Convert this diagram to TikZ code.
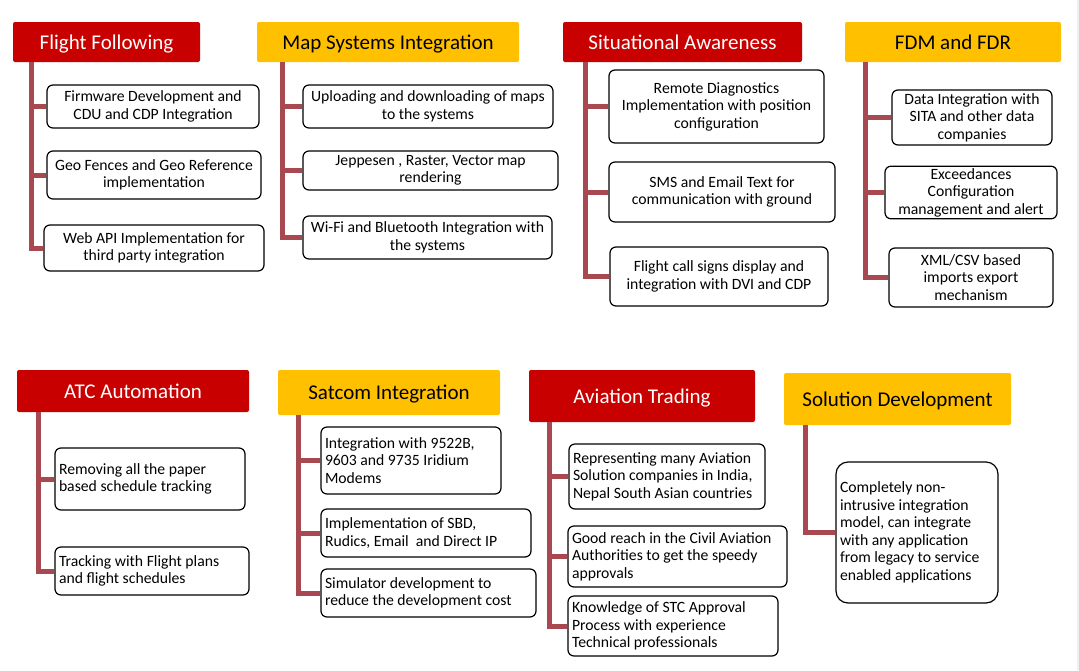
\documentclass[tikz,border=0pt]{standalone}
\usepackage{fontspec}
\setmainfont{Carlito}
\definecolor{hdrred}{RGB}{200,0,0}
\definecolor{hdryellow}{RGB}{255,192,0}
\definecolor{spinecol}{RGB}{168,72,80}
\tikzset{
  head/.style={rounded corners=2, inner sep=0, text height=16, text depth=2, font=\fontsize{21}{25}\selectfont},
  redhead/.style={head, fill=hdrred, text=white},
  yelhead/.style={head, fill=hdryellow, text=black},
  item/.style={draw, fill=white, line width=1.2, rounded corners=6, inner xsep=4, inner ysep=2, align=center, font=\fontsize{15.7}{17.5}\selectfont},
  wd/.code={\pgfmathsetmacro\boxtw{#1-8}\tikzset{minimum width=#1, text width=\boxtw pt}},
  litem/.style={item, align=flush left},
  spine/.style={draw=spinecol, line width=5},
}
\begin{document}
\begin{tikzpicture}[x=1pt, y=-1pt]
  \useasboundingbox (0,0) rectangle (1079,670);
  \fill[gray!12] (1077,0) rectangle (1079,670);
  % headers, top row
  \node[redhead, minimum width=187, minimum height=40] (ffh) at (106.5,42) {Flight Following};
  \node[yelhead, minimum width=262, minimum height=40] (msh) at (388,42) {Map Systems Integration};
  \node[redhead, minimum width=239, minimum height=40] (sah) at (682.5,42) {Situational Awareness};
  \node[yelhead, minimum width=216, minimum height=40] (fdh) at (953,42) {FDM and FDR};
  % headers, bottom row
  \node[redhead, minimum width=232, minimum height=42] (atch) at (133,391) {ATC Automation};
  \node[yelhead, minimum width=222, minimum height=45] (sch) at (389,392.5) {Satcom Integration};
  \node[redhead, minimum width=226, minimum height=52] (avh) at (642,396) {Aviation Trading};
  \node[yelhead, minimum width=227, minimum height=52] (sdh) at (897.5,399) {Solution Development};
  % flight following
  \node[item, minimum width=212, minimum height=43] (ff1) at (153,106.5) {Firmware Development and\\CDU and CDP Integration};
  \node[item, minimum width=214, minimum height=48] (ff2) at (154,175) {Geo Fences and Geo Reference\\implementation};
  \node[item, minimum width=220, minimum height=46] (ff3) at (154,248) {Web API Implementation for\\third party integration};
  % map systems
  \node[item, minimum width=250, minimum height=43] (ms1) at (428,106.5) {Uploading and downloading of maps\\to the systems};
  \node[item, minimum width=255, minimum height=39] (ms2) at (430.5,170.5) {Jeppesen , Raster, Vector map\\rendering};
  \node[item, minimum width=249, minimum height=43] (ms3) at (427.5,237.5) {Wi-Fi and Bluetooth Integration with\\the systems};
  % situational awareness
  \node[item, minimum width=215, minimum height=73] (sa1) at (716.5,106.5) {Remote Diagnostics\\Implementation with position\\configuration};
  \node[item, minimum width=226, minimum height=60] (sa2) at (722,192) {SMS and Email Text for\\communication with ground};
  \node[item, minimum width=218, minimum height=59] (sa3) at (719,276.5) {Flight call signs display and\\integration with DVI and CDP};
  % fdm and fdr
  \node[item, minimum width=160, minimum height=55] (fd1) at (972,117.5) {Data Integration with\\SITA and other data\\companies};
  \node[item, minimum width=172, minimum height=51] (fd2) at (971,192.5) {Exceedances\\Configuration\\management and alert};
  \node[item, minimum width=164, minimum height=59] (fd3) at (971,277.5) {XML/CSV based\\imports export\\mechanism};
  % atc automation
  \node[litem, wd=190, minimum height=62] (atc1) at (150,479) {Removing all the paper\\based schedule tracking};
  \node[litem, wd=194, minimum height=48] (atc2) at (152,571) {Tracking with Flight plans\\and flight schedules};
  % satcom
  \node[litem, wd=180, minimum height=67] (sc1) at (411,460.5) {Integration with 9522B,\\9603 and 9735 Iridium\\Modems};
  \node[litem, wd=210, minimum height=48] (sc2) at (426,533) {Implementation of SBD,\\Rudics, Email~ and Direct IP};
  \node[litem, wd=215, minimum height=48] (sc3) at (428.5,593) {Simulator development to\\reduce the development cost};
  % aviation trading
  \node[litem, wd=196, minimum height=65] (av1) at (667,476.5) {Representing many Aviation\\Solution companies in India,\\Nepal South Asian countries};
  \node[litem, wd=219, minimum height=61] (av2) at (677.5,556.5) {Good reach in the Civil Aviation\\Authorities to get the speedy\\approvals};
  \node[litem, wd=210, minimum height=60] (av3) at (673,626) {Knowledge of STC Approval\\Process with experience\\Technical professionals};
  % solution development
  \node[litem, wd=162, minimum height=141, rounded corners=12] (sd1) at (917,532.5) {Completely non-\\intrusive integration\\model, can integrate\\with any application\\from legacy to service\\enabled applications};
  % spines and branches
  \foreach \hd/\x/\last/\others in {ffh/31/ff3/{ff1,ff2}, msh/282/ms3/{ms1,ms2}, sah/585/sa3/{sa1,sa2}, fdh/865/fd3/{fd1,fd2}, atch/38/atc2/{atc1}, sch/298/sc3/{sc1,sc2}, avh/549/av3/{av1,av2}, sdh/805/sd1/{sd1}} {
    \draw[spine] (\hd.south -| \x,0) |- (\last.west);
    \foreach \b in \others { \draw[spine] (\b.west -| \x,0) -- (\b.west); }
  }
\end{tikzpicture}
\end{document}
